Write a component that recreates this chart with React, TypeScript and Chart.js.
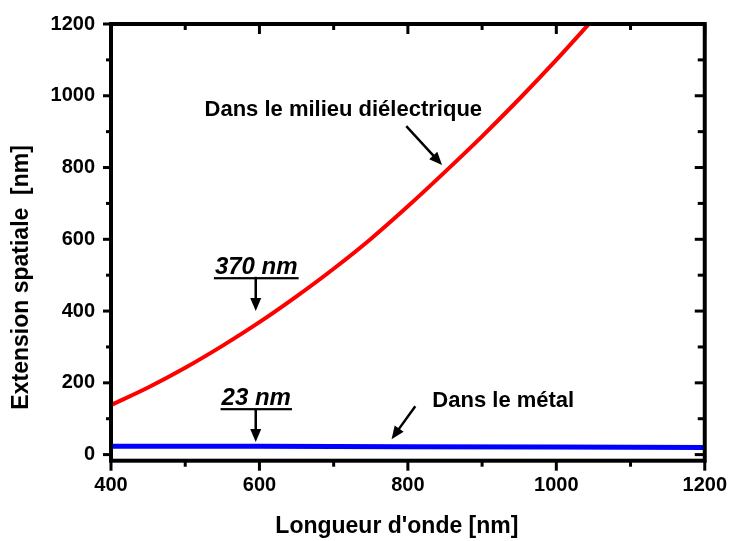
import { useEffect, useRef } from 'react';
import { Chart, registerables } from 'chart.js';

Chart.register(...registerables);

// ---- data ----
const DIEL_WAVELENGTHS = [400, 450, 500, 550, 600, 650, 700, 750, 800, 850, 900, 950, 1000, 1050];
const DIEL_VALUES = [138, 187, 242, 303, 369, 441, 518, 601, 692, 788, 887, 991, 1100, 1214];
const METAL_WAVELENGTHS = [400, 600, 800, 1000, 1200];
const METAL_VALUES = [23, 23, 22, 21, 20];

const X_MAJOR = [400, 600, 800, 1000, 1200];
const X_MINOR = [500, 700, 900, 1100];
const Y_MAJOR = [0, 200, 400, 600, 800, 1000, 1200];
const Y_MINOR = [100, 300, 500, 700, 900, 1100];

const X_TITLE = "Longueur d'onde [nm]";
const Y_TITLE = 'Extension spatiale  [nm]';

// annotations in data coordinates
const NOTE_TEXTS = ['Dans le milieu diélectrique', '370 nm', '23 nm', 'Dans le métal'];
const NOTE_X = [526, 540, 549, 833];
const NOTE_Y = [944, 503, 138, 132];
const NOTE_ITALIC = [false, true, true, false];

const ARROW_X1 = [799, 595, 595, 809];
const ARROW_Y1 = [913, 492, 124, 132];
const ARROW_X2 = [846, 595, 595, 778];
const ARROW_Y2 = [807, 400, 35, 43];

const FONT = '"Liberation Sans", Arial, Helvetica, sans-serif';

function drawArrow(ctx: CanvasRenderingContext2D, x1: number, y1: number, x2: number, y2: number) {
  const ang = Math.atan2(y2 - y1, x2 - x1);
  const head = 13;
  const hw = 5.5;
  const bx = x2 - head * Math.cos(ang);
  const by = y2 - head * Math.sin(ang);
  ctx.beginPath();
  ctx.moveTo(x1, y1);
  ctx.lineTo(bx, by);
  ctx.lineWidth = 2.5;
  ctx.stroke();
  ctx.beginPath();
  ctx.moveTo(x2, y2);
  ctx.lineTo(bx + hw * Math.sin(ang), by - hw * Math.cos(ang));
  ctx.lineTo(bx - hw * Math.sin(ang), by + hw * Math.cos(ang));
  ctx.closePath();
  ctx.fill();
}

const framePlugin = {
  id: 'framePlugin',
  afterDatasetsDraw(chart: any) {
    const { ctx, chartArea } = chart;
    const { left, right, top, bottom } = chartArea;
    const xs = chart.scales.x;
    const ys = chart.scales.y;
    ctx.save();
    ctx.strokeStyle = '#000';
    ctx.fillStyle = '#000';

    // ticks
    ctx.lineWidth = 3;
    ctx.lineCap = 'butt';
    const seg = (ax: number, ay: number, bx: number, by: number) => {
      ctx.beginPath();
      ctx.moveTo(ax, ay);
      ctx.lineTo(bx, by);
      ctx.stroke();
    };
    X_MAJOR.forEach((v) => {
      const p = xs.getPixelForValue(v);
      seg(p, bottom, p, bottom + 10);
      seg(p, top, p, top + 10);
    });
    X_MINOR.forEach((v) => {
      const p = xs.getPixelForValue(v);
      seg(p, bottom, p, bottom + 6);
      seg(p, top, p, top + 6);
    });
    Y_MAJOR.forEach((v) => {
      const p = ys.getPixelForValue(v);
      seg(left - 8, p, left, p);
      seg(right - 10, p, right, p);
    });
    Y_MINOR.forEach((v) => {
      const p = ys.getPixelForValue(v);
      seg(left - 5, p, left, p);
      seg(right - 7, p, right, p);
    });

    // frame
    ctx.lineWidth = 4;
    ctx.lineCap = 'square';
    ctx.strokeRect(left, top, right - left, bottom - top);

    // annotations
    ctx.textAlign = 'left';
    ctx.textBaseline = 'alphabetic';
    NOTE_TEXTS.forEach((t, i) => {
      const px = xs.getPixelForValue(NOTE_X[i]);
      const py = ys.getPixelForValue(NOTE_Y[i]);
      ctx.font = (NOTE_ITALIC[i] ? 'italic bold 24px ' : 'bold 22px ') + FONT;
      ctx.fillText(t, px, py);
      if (NOTE_ITALIC[i]) {
        const w = ctx.measureText(t).width;
        ctx.fillRect(px - 1, py + 3, w + 2, 2.2);
      }
    });
    ARROW_X1.forEach((_, i) => {
      drawArrow(
        ctx,
        xs.getPixelForValue(ARROW_X1[i]),
        ys.getPixelForValue(ARROW_Y1[i]),
        xs.getPixelForValue(ARROW_X2[i]),
        ys.getPixelForValue(ARROW_Y2[i])
      );
    });

    // axis titles
    ctx.font = 'bold 23px ' + FONT;
    ctx.textAlign = 'center';
    ctx.textBaseline = 'middle';
    ctx.fillText(X_TITLE, (left + right) / 2 - 11, 527);
    ctx.save();
    ctx.translate(22, (top + bottom) / 2 + 35);
    ctx.rotate(-Math.PI / 2);
    ctx.fillText(Y_TITLE, 0, 0);
    ctx.restore();

    ctx.restore();
  },
};

export default function App() {
  const canvasRef = useRef<HTMLCanvasElement | null>(null);

  useEffect(() => {
    if (!canvasRef.current) return;
    const chart = new Chart(canvasRef.current, {
      type: 'line',
      data: {
        datasets: [
          {
            label: 'Dans le milieu diélectrique',
            data: DIEL_WAVELENGTHS.map((x, i) => ({ x, y: DIEL_VALUES[i] })),
            borderColor: '#ff0000',
            borderWidth: 4,
            pointRadius: 0,
            tension: 0.3,
          },
          {
            label: 'Dans le métal',
            data: METAL_WAVELENGTHS.map((x, i) => ({ x, y: METAL_VALUES[i] })),
            borderColor: '#0000ff',
            borderWidth: 5,
            pointRadius: 0,
            tension: 0,
          },
        ],
      },
      options: {
        animation: false,
        responsive: true,
        maintainAspectRatio: false,
        layout: { padding: { top: 24, right: 24, left: 0, bottom: 0 } },
        plugins: {
          legend: { display: false },
          tooltip: { enabled: false },
        },
        scales: {
          x: {
            type: 'linear',
            min: 400,
            max: 1200,
            afterBuildTicks: (s: any) => {
              s.ticks = X_MAJOR.map((v) => ({ value: v }));
            },
            afterFit: (s: any) => {
              s.height = 80.3;
            },
            border: { display: false },
            grid: {
              display: true,
              drawOnChartArea: false,
              drawTicks: true,
              tickLength: 10,
              tickColor: 'rgba(0,0,0,0)',
            },
            ticks: {
              padding: 3,
              color: '#000',
              maxRotation: 0,
              callback: (v: any) => String(v),
              font: { family: FONT, size: 20, weight: 'bold' },
            },
            title: { display: false },
          },
          y: {
            type: 'linear',
            min: -17,
            max: 1200,
            afterBuildTicks: (s: any) => {
              s.ticks = Y_MAJOR.map((v) => ({ value: v }));
            },
            afterFit: (s: any) => {
              s.width = 111;
            },
            border: { display: false },
            grid: {
              display: true,
              drawOnChartArea: false,
              drawTicks: true,
              tickLength: 8,
              tickColor: 'rgba(0,0,0,0)',
            },
            ticks: {
              padding: 8,
              color: '#000',
              callback: (v: any) => String(v),
              font: { family: FONT, size: 20, weight: 'bold' },
            },
            title: { display: false },
          },
        },
      },
      plugins: [framePlugin],
    } as any);
    return () => chart.destroy();
  }, []);

  return (
    <div style={{ position: 'fixed', left: 0, top: 0, width: 730, height: 541, background: '#fff' }}>
      <canvas ref={canvasRef} />
    </div>
  );
}
